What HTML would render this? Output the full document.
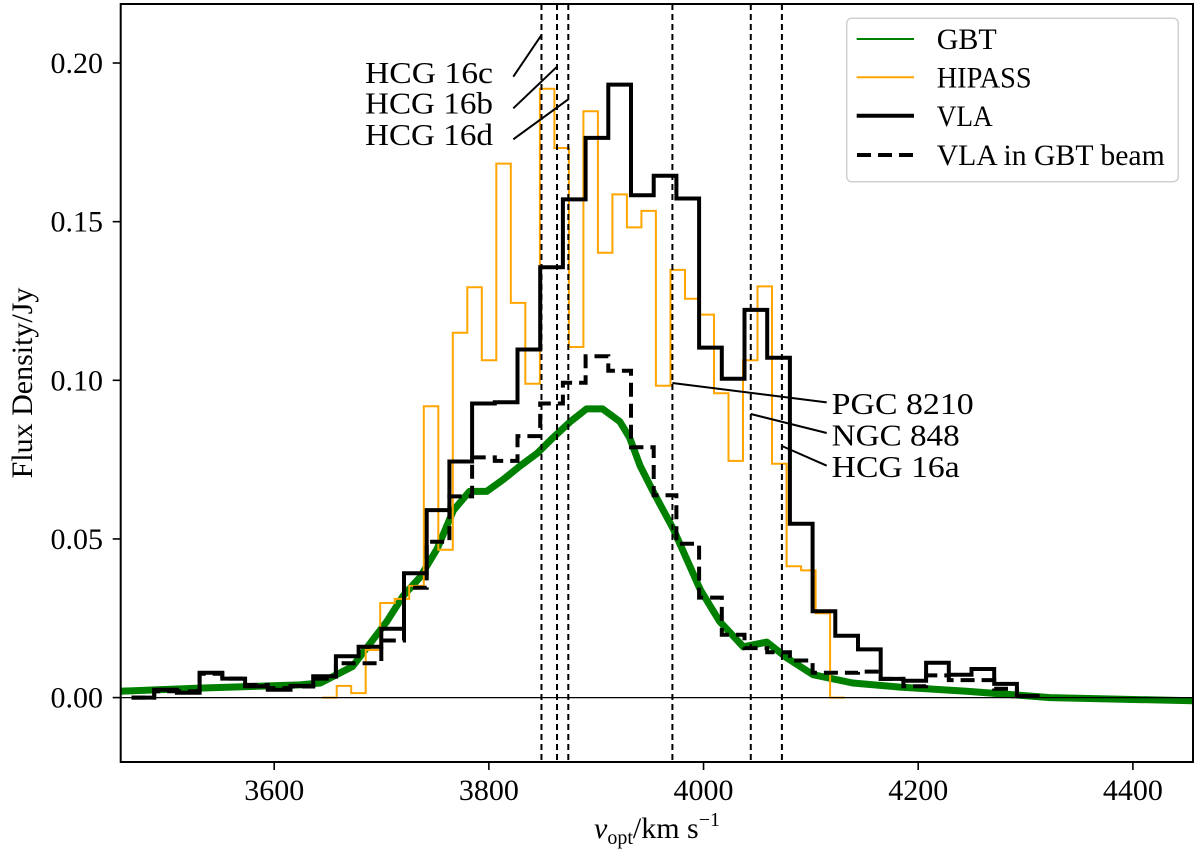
<!DOCTYPE html>
<html><head><meta charset="utf-8"><style>
html,body{margin:0;padding:0;background:#fff;}
svg{display:block;font-family:"Liberation Serif",serif;}
</style></head><body>
<svg id="chart" width="1200" height="856" viewBox="0 0 1200 856">
<defs><clipPath id="plotclip"><rect x="120.7" y="4" width="1072.3" height="758"/></clipPath></defs>
<rect x="0" y="0" width="1200" height="856" fill="#fff"/>
<g id="plot" clip-path="url(#plotclip)"></g>
<g id="axes"></g>
<text x="32" y="383" font-size="30" text-anchor="middle" transform="rotate(-90 32 383)">Flux Density/Jy</text>
<text x="657" y="838" font-size="30" text-anchor="middle"><tspan font-style="italic">v</tspan><tspan font-size="20" dy="6">opt</tspan><tspan dy="-6">/km s</tspan><tspan font-size="20" dy="-12">−1</tspan></text>
<g>
  <rect x="846.7" y="18.3" width="331.6" height="163.4" rx="5" fill="#fff" fill-opacity="0.8" stroke="#d0d0d0" stroke-width="1.5"/>
  <g>
    <line x1="856.7" x2="914" y1="39" y2="39" stroke="#008000" stroke-width="2"/>
    <text x="936.7" y="49" font-size="30" textLength="60" lengthAdjust="spacingAndGlyphs">GBT</text>
  </g>
  <g>
    <line x1="856.7" x2="914" y1="77.3" y2="77.3" stroke="#FFA500" stroke-width="2"/>
    <text x="936.7" y="87.5" font-size="30" textLength="95" lengthAdjust="spacingAndGlyphs">HIPASS</text>
  </g>
  <g>
    <line x1="856.7" x2="914" y1="115.7" y2="115.7" stroke="#000" stroke-width="4"/>
    <text x="936.7" y="126" font-size="30" textLength="56" lengthAdjust="spacingAndGlyphs">VLA</text>
  </g>
  <g>
    <line x1="857" x2="914" y1="155" y2="155" stroke="#000" stroke-width="4" stroke-dasharray="14 7"/>
    <text x="936.7" y="165" font-size="30" textLength="228" lengthAdjust="spacingAndGlyphs">VLA in GBT beam</text>
  </g>
</g>
</svg>
<script>
// ---- data ----
const xDomain = [3457, 4456];
const yDomain = [-0.0203, 0.2186];
const xTicks = [3600, 3800, 4000, 4200, 4400];
const xTickLabels = ["3600", "3800", "4000", "4200", "4400"];
const yTicks = [0.00, 0.05, 0.10, 0.15, 0.20];
const yTickLabels = ["0.00", "0.05", "0.10", "0.15", "0.20"];
const vlaStart = 3467.1;
const vlaWidth = 21.15;
const vlaValues = [0, 0.0025, 0.0015, 0.0078, 0.006, 0.0036, 0.0025, 0.0037, 0.0067,
  0.013, 0.016, 0.0217, 0.0392, 0.0591, 0.0744, 0.0927, 0.0931, 0.1097, 0.1356,
  0.157, 0.1764, 0.1932, 0.1583, 0.1645, 0.1573, 0.1103, 0.1005, 0.1222, 0.1071,
  0.0548, 0.0272, 0.0195, 0.0152, 0.0059, 0.0053, 0.011, 0.0072, 0.009, 0.0043, 0.0005];
const vlaBeamValues = [0, 0.002, 0.002, 0.0075, 0.006, 0.004, 0.003, 0.0035, 0.006,
  0.0108, 0.0108, 0.018, 0.0346, 0.0491, 0.0634, 0.0757, 0.0746, 0.0824,
  0.0927, 0.0992, 0.1076, 0.103, 0.0789, 0.0638,
  0.0485, 0.0315, 0.0198, 0.0156, 0.0143, 0.0117, 0.0078, 0.0078, 0.0082, 0.0059,
  0.0036, 0.007, 0.0055, 0.0055, 0.0028, 0.0005];
const hipassStart = 3644.7;
const hipassWidth = 13.52;
const hipassValues = [0, 0.0037, 0.0014, 0.015, 0.0298, 0.0311, 0.0352, 0.0918, 0.0466,
  0.115, 0.1293, 0.1063, 0.1683, 0.1244, 0.0989, 0.1919, 0.1732, 0.1105, 0.1848,
  0.1402, 0.1586, 0.1482, 0.1534, 0.0983, 0.1348, 0.1257, 0.1207, 0.0959, 0.0746,
  0.1063, 0.1296, 0.0737, 0.0414, 0.0401, 0.0266, 0];
const gbtVel = [3457, 3530, 3624, 3643, 3673, 3705, 3720, 3736, 3752, 3767, 3782, 3798, 3813,
  3829, 3845, 3860, 3876, 3891, 3906, 3922, 3931, 3941, 3953, 3972, 3997, 4015, 4037,
  4059, 4078, 4102, 4139, 4183, 4245, 4323, 4456];
const gbtFlux = [0.002, 0.003, 0.004, 0.0046, 0.0098, 0.024, 0.032, 0.038, 0.047, 0.059, 0.065,
  0.065, 0.0686, 0.073, 0.077, 0.082, 0.087, 0.091, 0.091, 0.087, 0.082, 0.073, 0.065,
  0.053, 0.034, 0.024, 0.016, 0.0175, 0.0124, 0.0072, 0.0046, 0.0033, 0.002, 0.0, -0.001];
const galaxyNames = ["HCG 16c", "HCG 16b", "HCG 16d", "PGC 8210", "NGC 848", "HCG 16a"];
const galaxyVel = [3849, 3863.5, 3874, 3971, 4044, 4073];

// ---- scales ----
const PX0 = 120.7, PX1 = 1193, PY0 = 4, PY1 = 762;
function X(v){ return PX0 + (v - xDomain[0]) / (xDomain[1] - xDomain[0]) * (PX1 - PX0); }
function Y(f){ return PY1 - (f - yDomain[0]) / (yDomain[1] - yDomain[0]) * (PY1 - PY0); }
const NS = "http://www.w3.org/2000/svg";
const plot = document.getElementById('plot');
const axes = document.getElementById('axes');
function mk(tag, attrs, parent){
  const e = document.createElementNS(NS, tag);
  for (const k in attrs) e.setAttribute(k, attrs[k]);
  parent.appendChild(e);
  return e;
}
function stepPath(start, width, vals){
  let d = '';
  for (let i = 0; i < vals.length; i++){
    const x0 = X(start + i*width), x1 = X(start + (i+1)*width), y = Y(vals[i]);
    d += (i === 0 ? 'M' + x0.toFixed(1) + ' ' + y.toFixed(1) : ' V' + y.toFixed(1)) + ' H' + x1.toFixed(1);
  }
  return d;
}

let gd = '';
for (let i = 0; i < gbtVel.length; i++) gd += (i ? ' L' : 'M') + X(gbtVel[i]).toFixed(1) + ' ' + Y(gbtFlux[i]).toFixed(1);
const gbt = mk('path', {d: gd, fill: 'none', stroke: '#008000', 'stroke-width': 7, 'stroke-linejoin': 'round'}, plot);



const hp = mk('path', {d: stepPath(hipassStart, hipassWidth, hipassValues), fill: 'none', stroke: '#FFA500', 'stroke-width': 2}, plot);



const vb = mk('path', {d: stepPath(vlaStart, vlaWidth, vlaBeamValues), fill: 'none', stroke: '#000', 'stroke-width': 4, 'stroke-dasharray': '14 7'}, plot);



const vl = mk('path', {d: stepPath(vlaStart, vlaWidth, vlaValues), fill: 'none', stroke: '#000', 'stroke-width': 4}, plot);



const zl = mk('line', {x1: PX0, x2: PX1, y1: Y(0), y2: Y(0), stroke: '#000', 'stroke-width': 1.3}, plot);



for (let i = 0; i < galaxyVel.length; i++){
  const l = mk('line', {x1: X(galaxyVel[i]), x2: X(galaxyVel[i]), y1: PY0, y2: PY1, stroke: '#000', 'stroke-width': 2, 'stroke-dasharray': '6 4'}, plot);
  
  
}

const leftLabels = [
  {i: 0, ty: 83, ly0: 76.7, ly1: 35},
  {i: 1, ty: 113.5, ly0: 108.3, ly1: 66.7},
  {i: 2, ty: 145, ly0: 139.3, ly1: 99.3}
];
leftLabels.forEach(o => {
  const ln = mk('line', {x1: 513.3, y1: o.ly0, x2: X(galaxyVel[o.i]), y2: o.ly1, stroke: '#000', 'stroke-width': 2}, axes);
  
  
  const t = mk('text', {x: 365, y: o.ty, 'font-size': 31, textLength: 128, lengthAdjust: 'spacingAndGlyphs'}, axes);
  t.textContent = galaxyNames[o.i];
  
  
});
const rightLabels = [
  {i: 3, ty: 414, py: 383, ly: 402.4, w: 142},
  {i: 4, ty: 445.5, py: 414, ly: 433, w: 128},
  {i: 5, ty: 477, py: 446, ly: 465.7, w: 128}
];
rightLabels.forEach(o => {
  const ln = mk('line', {x1: X(galaxyVel[o.i]), y1: o.py, x2: 826.7, y2: o.ly, stroke: '#000', 'stroke-width': 2}, axes);
  
  
  const t = mk('text', {x: 831.7, y: o.ty, 'font-size': 31, textLength: o.w, lengthAdjust: 'spacingAndGlyphs'}, axes);
  t.textContent = galaxyNames[o.i];
  
  
});

const fr = mk('rect', {x: PX0, y: PY0, width: PX1 - PX0, height: PY1 - PY0, fill: 'none', stroke: '#000', 'stroke-width': 2}, axes);



for (let i = 0; i < xTicks.length; i++){
  const x = X(xTicks[i]);
  const tk = mk('line', {x1: x, x2: x, y1: PY1, y2: PY1 + 8, stroke: '#000', 'stroke-width': 1.6}, axes);
  
  
  const t = mk('text', {x: x, y: 800, 'font-size': 30, 'text-anchor': 'middle'}, axes);
  t.textContent = xTickLabels[i];
  
  
}
for (let i = 0; i < yTicks.length; i++){
  const y = Y(yTicks[i]);
  const tk = mk('line', {x1: PX0 - 8, x2: PX0, y1: y, y2: y, stroke: '#000', 'stroke-width': 1.6}, axes);
  
  
  const t = mk('text', {x: 103, y: y + 10, 'font-size': 30, 'text-anchor': 'end'}, axes);
  t.textContent = yTickLabels[i];
  
  
}
</script>
</body></html>
